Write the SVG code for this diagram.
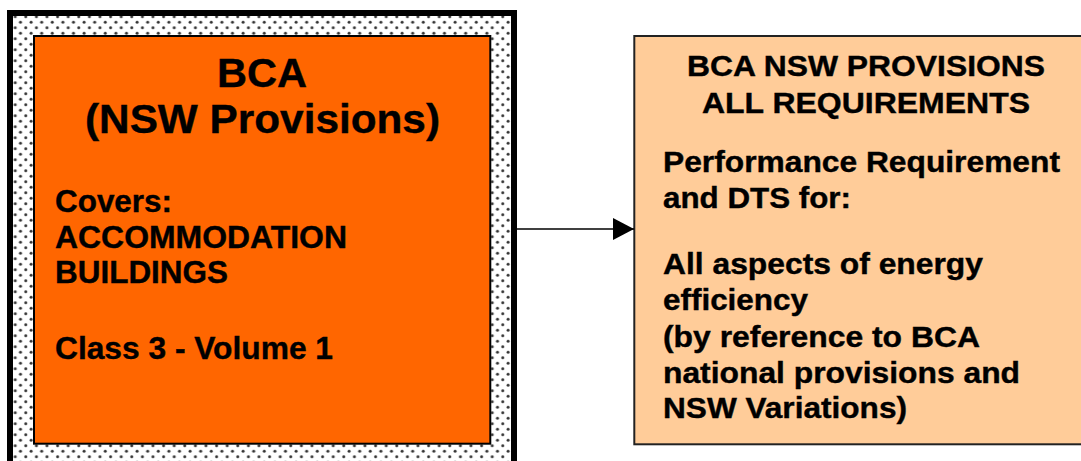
<svg xmlns="http://www.w3.org/2000/svg" width="1081" height="461" viewBox="0 0 1081 461">
  <style>
    text { font-family: "Liberation Sans", Arial, sans-serif; font-weight: bold; fill: #000; stroke: #000; stroke-width: 0.4; }
    .title { font-size: 41px; text-anchor: middle; }
    .lbody { font-size: 31px; }
    .rhead { font-size: 29px; text-anchor: middle; }
    .rbody { font-size: 29px; }
    .conn { stroke: #000; stroke-width: 1.5; fill: none; }
  </style>
  <defs>
    <pattern id="dots" patternUnits="userSpaceOnUse" x="2" y="3" width="10.6" height="11">
      <rect width="10.6" height="11" fill="#fff"/>
      <circle cx="2.6" cy="2.7" r="1.8" fill="#aaa"/>
      <circle cx="2.6" cy="2.7" r="1.2" fill="#333"/>
      <circle cx="7.9" cy="8.2" r="1.8" fill="#aaa"/>
      <circle cx="7.9" cy="8.2" r="1.2" fill="#333"/>
    </pattern>
    <marker id="arrow" markerUnits="userSpaceOnUse" markerWidth="22" markerHeight="22" refX="21" refY="11" orient="auto">
      <path d="M0,0 L21,11 L0,22 Z" fill="#000"/>
    </marker>
  </defs>

  <g id="node-bca-nsw">
    <rect x="7" y="10" width="510" height="470" fill="#000"/>
    <rect x="13" y="16" width="498" height="460" fill="url(#dots)"/>
    <rect x="34" y="36" width="456.3" height="407.7" fill="#FF6600" stroke="#000" stroke-width="2"/>
    <text class="title" x="262" y="87" textLength="90" lengthAdjust="spacingAndGlyphs">BCA</text>
    <text class="title" x="262.5" y="133" textLength="355" lengthAdjust="spacingAndGlyphs">(NSW Provisions)</text>
    <text class="lbody" x="55" y="212" textLength="117" lengthAdjust="spacingAndGlyphs">Covers:</text>
    <text class="lbody" x="55" y="248" textLength="292" lengthAdjust="spacingAndGlyphs">ACCOMMODATION</text>
    <text class="lbody" x="55" y="283" textLength="173" lengthAdjust="spacingAndGlyphs">BUILDINGS</text>
    <text class="lbody" x="55" y="359" textLength="278" lengthAdjust="spacingAndGlyphs">Class 3 - Volume 1</text>
  </g>

  <g id="node-all-requirements">
    <rect x="634.3" y="36" width="460" height="408.3" fill="#FFCC99" stroke="#222" stroke-width="2"/>
    <text class="rhead" x="866" y="76" textLength="358" lengthAdjust="spacingAndGlyphs">BCA NSW PROVISIONS</text>
    <text class="rhead" x="866" y="113" textLength="328" lengthAdjust="spacingAndGlyphs">ALL REQUIREMENTS</text>
    <text class="rbody" x="663" y="172" textLength="397" lengthAdjust="spacingAndGlyphs">Performance Requirement</text>
    <text class="rbody" x="663" y="208" textLength="188" lengthAdjust="spacingAndGlyphs">and DTS for:</text>
    <text class="rbody" x="663" y="274" textLength="320" lengthAdjust="spacingAndGlyphs">All aspects of energy</text>
    <text class="rbody" x="663" y="310" textLength="145" lengthAdjust="spacingAndGlyphs">efficiency</text>
    <text class="rbody" x="663" y="347" textLength="317" lengthAdjust="spacingAndGlyphs">(by reference to BCA</text>
    <text class="rbody" x="663" y="383" textLength="357" lengthAdjust="spacingAndGlyphs">national provisions and</text>
    <text class="rbody" x="663" y="418" textLength="244" lengthAdjust="spacingAndGlyphs">NSW Variations)</text>
  </g>

  <g id="connectors">
    <line class="conn" x1="517" y1="229" x2="634" y2="229" marker-end="url(#arrow)"/>
  </g>
</svg>
